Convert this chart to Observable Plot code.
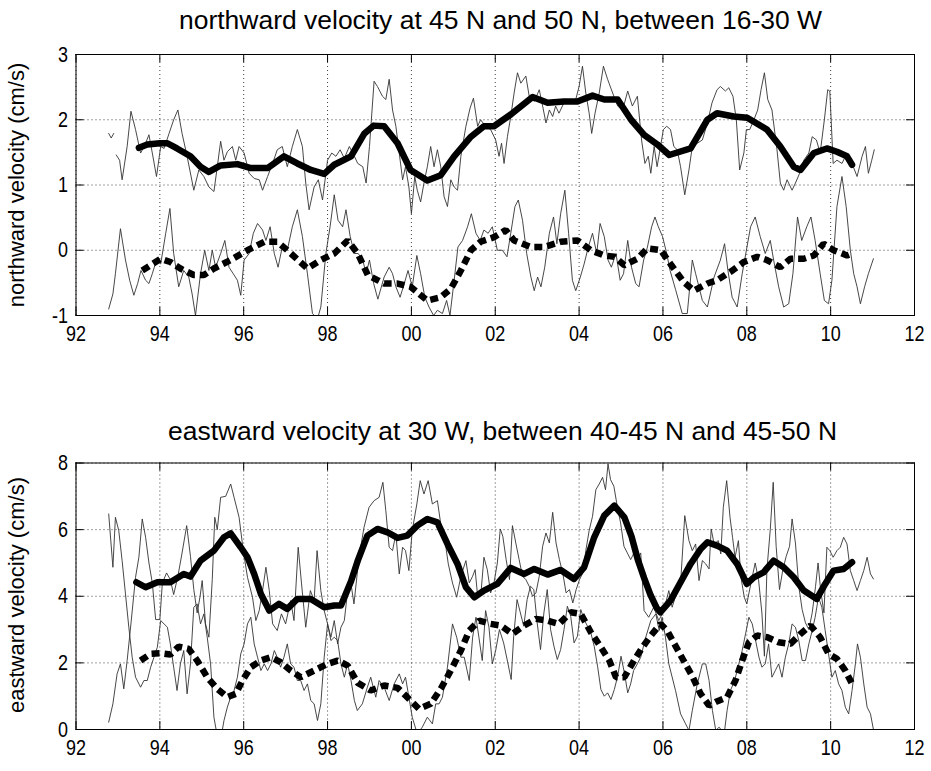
<!DOCTYPE html>
<html><head><meta charset="utf-8">
<script src="https://cdn.jsdelivr.net/npm/d3@7"></script>
<script src="https://cdn.jsdelivr.net/npm/@observablehq/plot@0.6"></script>
<style>
html,body{margin:0;padding:0;background:#fff;}
#root{position:relative;width:931px;height:771px;overflow:hidden;background:#fff;}
.panel{position:absolute;left:0;}
.title{position:absolute;white-space:nowrap;font-family:"Liberation Sans",Arial,sans-serif;font-size:25px;color:#000;line-height:1;transform-origin:0 50%;}
.ylab{position:absolute;white-space:nowrap;font-family:"Liberation Sans",Arial,sans-serif;font-size:22px;color:#000;line-height:1;}
</style></head><body>
<div id="root"></div>
<script>
// ---------- tick values ----------
const xTicks = [1992,1994,1996,1998,2000,2002,2004,2006,2008,2010,2012];
const topYTicks = [-1,0,1,2,3];
const botYTicks = [0,2,4,6,8];

// ---------- top panel: northward velocity ----------
const nSolidT = [1993.5,1993.7,1994.0,1994.18,1994.41,1994.73,1994.97,1995.17,1995.45,1995.85,1996.17,1996.57,1996.96,1997.28,1997.6,1997.92,1998.16,1998.56,1998.88,1999.1,1999.35,1999.67,1999.98,2000.38,2000.7,2001.02,2001.42,2001.73,2001.97,2002.37,2002.89,2003.25,2003.64,2003.96,2004.32,2004.6,2004.92,2005.24,2005.55,2005.87,2006.15,2006.66,2007.06,2007.29,2007.69,2008.01,2008.48,2008.8,2009.12,2009.28,2009.6,2009.91,2010.15,2010.39,2010.51];
const nSolidV = [1.57,1.62,1.64,1.64,1.56,1.44,1.28,1.2,1.3,1.32,1.26,1.26,1.44,1.33,1.23,1.17,1.31,1.44,1.79,1.91,1.9,1.64,1.23,1.07,1.15,1.44,1.74,1.9,1.9,2.08,2.35,2.26,2.28,2.28,2.37,2.31,2.31,2.0,1.77,1.62,1.46,1.56,2.0,2.1,2.05,2.03,1.85,1.59,1.28,1.23,1.49,1.56,1.51,1.44,1.31];

const nDashT = [1993.58,1994.02,1994.25,1994.49,1994.81,1995.05,1995.29,1995.69,1996.09,1996.49,1996.8,1997.04,1997.52,1997.84,1998.16,1998.48,1998.72,1998.96,1999.2,1999.35,1999.67,1999.98,2000.38,2000.7,2000.94,2001.18,2001.42,2001.65,2001.97,2002.25,2002.45,2002.85,2003.17,2003.56,2003.96,2004.28,2004.6,2004.84,2005.08,2005.39,2005.63,2005.95,2006.18,2006.5,2006.74,2007.06,2007.29,2007.61,2007.93,2008.25,2008.48,2008.8,2009.04,2009.36,2009.6,2009.83,2010.07,2010.39,2010.51];
const nDashV = [-0.31,-0.13,-0.18,-0.28,-0.38,-0.38,-0.28,-0.15,0.0,0.13,0.13,0.0,-0.28,-0.15,-0.05,0.15,-0.05,-0.38,-0.46,-0.51,-0.51,-0.56,-0.77,-0.72,-0.59,-0.31,0.0,0.13,0.2,0.31,0.15,0.05,0.05,0.13,0.15,0.0,-0.08,-0.1,-0.23,-0.13,0.03,0.0,-0.21,-0.49,-0.62,-0.51,-0.46,-0.33,-0.18,-0.1,-0.15,-0.26,-0.13,-0.13,-0.08,0.1,0.0,-0.08,-0.05];

const nThinAT = [1992.78,1992.84,1992.9,1992.93,1992.96,1993.04,1993.1,1993.22,1993.31,1993.42,1993.54,1993.63,1993.74,1993.82,1993.92,1994.02,1994.1,1994.22,1994.33,1994.43,1994.53,1994.65,1994.81,1994.93,1995.05,1995.17,1995.29,1995.37,1995.45,1995.53,1995.61,1995.73,1995.81,1995.89,1996.01,1996.13,1996.25,1996.37,1996.45,1996.57,1996.69,1996.8,1996.92,1997.04,1997.16,1997.28,1997.4,1997.48,1997.56,1997.68,1997.78,1997.88,1998.0,1998.1,1998.2,1998.3,1998.4,1998.52,1998.64,1998.72,1998.84,1998.92,1999.0,1999.11,1999.19,1999.31,1999.39,1999.47,1999.55,1999.63,1999.71,1999.79,1999.86,1999.94,2000.0,2000.08,2000.14,2000.22,2000.3,2000.38,2000.46,2000.54,2000.62,2000.7,2000.78,2000.86,2000.94,2001.02,2001.1,2001.18,2001.3,2001.4,2001.48,2001.58,2001.65,2001.77,2001.89,2002.01,2002.09,2002.15,2002.21,2002.29,2002.37,2002.45,2002.53,2002.61,2002.73,2002.81,2002.93,2003.05,2003.13,2003.21,2003.29,2003.37,2003.44,2003.52,2003.64,2003.8,2003.92,2004.0,2004.08,2004.16,2004.24,2004.3,2004.38,2004.48,2004.58,2004.68,2004.8,2004.92,2005.04,2005.16,2005.27,2005.39,2005.49,2005.57,2005.65,2005.71,2005.79,2005.86,2005.93,2006.01,2006.09,2006.18,2006.26,2006.34,2006.42,2006.52,2006.62,2006.7,2006.82,2006.94,2007.06,2007.17,2007.29,2007.37,2007.49,2007.57,2007.67,2007.75,2007.83,2007.93,2007.99,2008.07,2008.17,2008.26,2008.34,2008.42,2008.5,2008.6,2008.72,2008.8,2008.88,2008.96,2009.08,2009.16,2009.26,2009.36,2009.48,2009.56,2009.66,2009.75,2009.85,2009.93,2009.98,2010.06,2010.15,2010.27,2010.39,2010.51,2010.63,2010.75,2010.83,2010.9,2010.98,2011.04];
const nThinAV = [1.79,1.72,1.79,null,1.46,1.38,1.08,1.59,2.13,1.85,1.49,1.59,1.77,1.49,1.13,1.59,1.56,1.79,2.0,2.15,1.79,1.44,0.92,1.23,1.13,0.97,0.9,1.28,1.67,1.38,1.51,1.59,1.38,1.59,1.49,1.18,1.1,1.08,0.92,1.13,1.33,1.54,1.59,1.28,1.59,1.85,1.59,1.03,0.62,0.97,1.08,0.77,1.38,1.49,1.44,1.54,1.41,1.59,1.44,1.33,1.28,1.03,1.59,2.59,2.51,2.36,2.31,2.62,2.15,1.9,1.49,1.08,1.28,0.97,0.56,1.13,0.92,0.74,1.03,1.28,1.59,1.28,1.54,1.28,0.82,0.67,1.08,0.97,0.92,1.44,1.9,2.18,2.33,1.9,2.0,1.9,1.85,1.69,1.44,1.64,1.33,1.74,2.05,2.41,2.72,2.56,2.67,2.36,2.28,2.46,2.21,1.95,2.15,2.05,2.21,2.1,2.26,2.26,2.31,2.51,2.82,2.41,2.1,1.79,2.1,2.41,2.82,2.62,2.41,2.21,2.15,2.44,2.21,2.36,1.69,1.33,1.44,1.18,1.59,1.28,1.54,1.85,1.9,1.85,1.59,1.54,1.28,0.85,1.23,1.59,1.64,1.69,1.95,2.26,2.46,2.51,2.44,2.49,2.36,2.0,1.23,1.49,1.85,1.85,2.0,2.15,2.46,2.72,2.31,2.15,1.54,1.03,0.92,1.08,0.92,1.03,1.18,1.38,1.49,1.74,1.69,1.49,2.0,2.46,2.44,1.33,1.38,1.33,1.49,1.33,1.13,1.44,1.59,1.18,1.38,1.54];

const nThinBT = [1992.78,1992.88,1992.94,1993.06,1993.18,1993.28,1993.38,1993.47,1993.55,1993.66,1993.74,1993.82,1993.92,1994.02,1994.14,1994.24,1994.33,1994.45,1994.57,1994.69,1994.77,1994.85,1994.97,1995.07,1995.17,1995.25,1995.33,1995.45,1995.55,1995.65,1995.75,1995.85,1995.93,1996.01,1996.13,1996.23,1996.33,1996.45,1996.53,1996.63,1996.73,1996.82,1996.92,1997.04,1997.16,1997.28,1997.4,1997.52,1997.64,1997.76,1997.84,1997.96,1998.06,1998.16,1998.25,1998.36,1998.44,1998.54,1998.64,1998.73,1998.84,1998.92,1999.0,1999.1,1999.2,1999.35,1999.47,1999.55,1999.63,1999.73,1999.83,1999.92,2000.02,2000.13,2000.22,2000.32,2000.42,2000.53,2000.62,2000.74,2000.84,2000.92,2001.02,2001.11,2001.22,2001.34,2001.43,2001.54,2001.64,2001.73,2001.83,2001.93,2002.05,2002.17,2002.28,2002.37,2002.47,2002.55,2002.65,2002.75,2002.85,2002.93,2003.01,2003.09,2003.18,2003.29,2003.39,2003.47,2003.56,2003.66,2003.75,2003.84,2003.92,2004.03,2004.12,2004.22,2004.32,2004.42,2004.5,2004.6,2004.69,2004.77,2004.88,2004.98,2005.06,2005.16,2005.25,2005.35,2005.43,2005.54,2005.63,2005.73,2005.81,2005.89,2005.99,2006.09,2006.17,2006.3,2006.46,2006.58,2006.7,2006.78,2006.94,2007.06,2007.22,2007.37,2007.47,2007.55,2007.65,2007.77,2007.89,2007.99,2008.09,2008.2,2008.32,2008.44,2008.56,2008.64,2008.76,2008.88,2009.0,2009.1,2009.21,2009.31,2009.43,2009.53,2009.63,2009.75,2009.85,2009.95,2010.03,2010.15,2010.27,2010.37,2010.47,2010.55,2010.63,2010.71,2010.81,2010.9,2011.02];
const nThinBV = [-0.9,-0.67,-0.36,0.33,-0.15,-0.46,-0.69,-0.51,-0.31,-0.46,-0.51,-0.36,-0.15,-0.21,0.26,0.64,-0.05,-0.56,-0.31,-0.41,-0.67,-1.0,-0.36,0.0,-0.31,0.0,-0.26,-0.05,0.15,-0.26,-0.36,-0.46,-0.69,-0.15,-0.05,0.26,0.41,0.31,0.15,0.36,-0.05,-0.26,0.05,0.0,0.36,0.62,0.21,-0.36,-0.97,-1.05,-0.87,-0.05,0.36,0.85,0.46,0.36,0.62,0.21,-0.05,-0.05,-0.15,-0.36,-0.15,-0.51,-0.75,-0.41,-0.26,-0.36,-0.56,-0.72,-0.51,-0.31,-0.56,-0.08,-0.36,-0.72,-0.87,-1.0,-0.92,-0.97,-0.77,-1.0,-0.46,0.05,0.15,0.36,0.56,0.26,0.15,0.31,0.26,0.36,0.0,0.0,-0.1,0.26,0.67,0.77,0.46,-0.05,-0.41,-0.62,-0.41,-0.56,-0.26,0.26,0.51,0.1,0.56,0.92,0.26,-0.46,-0.62,-0.41,-0.21,0.05,0.26,-0.05,0.41,0.21,-0.15,-0.26,-0.05,-0.46,-0.36,0.15,-0.26,-0.51,-0.56,-0.15,0.05,0.36,0.51,0.36,0.21,-0.05,-0.31,-0.6,-0.97,-0.97,-0.15,-0.36,-0.77,-0.87,-0.41,-0.15,0.1,-0.31,-0.72,-0.87,-0.36,0.0,0.36,0.51,0.21,-0.05,0.15,-0.15,-0.56,-0.87,-0.82,-0.36,0.51,0.15,0.36,0.51,0.15,-0.36,-0.77,-0.82,-0.46,0.67,1.13,0.67,0.0,-0.36,-0.56,-0.82,-0.56,-0.36,-0.13];

// ---------- bottom panel: eastward velocity ----------
const eSolidT = [1993.44,1993.66,1993.94,1994.25,1994.57,1994.73,1994.97,1995.29,1995.53,1995.69,1995.93,1996.09,1996.25,1996.41,1996.61,1996.84,1997.04,1997.28,1997.6,1997.92,1998.16,1998.32,1998.56,1998.73,1998.95,1999.19,1999.43,1999.67,1999.9,2000.14,2000.38,2000.62,2000.86,2001.1,2001.3,2001.5,2001.73,2002.05,2002.37,2002.69,2002.93,2003.25,2003.56,2003.88,2004.12,2004.36,2004.6,2004.84,2005.08,2005.25,2005.4,2005.55,2005.7,2005.85,2005.94,2006.18,2006.42,2006.66,2006.9,2007.06,2007.29,2007.53,2007.77,2008.0,2008.17,2008.4,2008.64,2008.88,2009.12,2009.36,2009.67,2009.87,2010.07,2010.31,2010.51];
const eSolidV = [4.42,4.27,4.42,4.42,4.67,4.59,5.07,5.37,5.77,5.89,5.47,5.17,4.67,4.07,3.57,3.77,3.62,3.92,3.92,3.67,3.72,3.72,4.45,5.1,5.82,6.02,5.92,5.75,5.82,6.12,6.32,6.22,5.57,4.97,4.27,3.97,4.17,4.37,4.85,4.67,4.82,4.65,4.79,4.52,4.87,5.77,6.42,6.72,6.37,5.8,5.1,4.55,4.05,3.65,3.52,3.87,4.42,4.97,5.42,5.62,5.52,5.37,4.97,4.37,4.57,4.72,5.07,4.87,4.57,4.17,3.92,4.37,4.77,4.82,5.02];

const eDashT = [1993.54,1993.78,1994.02,1994.25,1994.45,1994.69,1994.89,1995.13,1995.37,1995.61,1995.81,1995.97,1996.17,1996.41,1996.65,1996.88,1997.12,1997.36,1997.68,1998.0,1998.24,1998.48,1998.72,1999.03,1999.35,1999.67,1999.9,2000.18,2000.46,2000.7,2000.94,2001.18,2001.38,2001.62,2001.89,2002.13,2002.41,2002.69,2002.97,2003.25,2003.52,2003.8,2004.04,2004.28,2004.52,2004.72,2004.88,2005.08,2005.31,2005.5,2005.7,2005.94,2006.1,2006.26,2006.5,2006.7,2006.9,2007.1,2007.3,2007.53,2007.73,2007.89,2008.05,2008.25,2008.49,2008.76,2009.04,2009.28,2009.52,2009.75,2009.95,2010.15,2010.35,2010.51];
const eDashV = [2.07,2.27,2.29,2.25,2.49,2.42,2.07,1.57,1.22,0.97,1.07,1.47,1.87,2.07,2.17,2.02,1.77,1.57,1.77,1.97,2.07,1.92,1.4,1.17,1.32,1.25,0.97,0.62,0.77,1.22,1.77,2.37,2.97,3.27,3.17,3.12,2.87,3.12,3.32,3.27,3.17,3.52,3.47,2.92,2.47,2.07,1.57,1.57,2.07,2.45,2.8,3.17,2.97,2.6,2.05,1.6,1.07,0.72,0.85,0.97,1.47,2.07,2.62,2.82,2.77,2.62,2.57,2.87,3.12,2.77,2.27,2.12,1.77,1.37];

const eThinUT = [1992.78,1992.88,1992.98,1993.06,1993.14,1993.22,1993.31,1993.42,1993.5,1993.58,1993.66,1993.74,1993.82,1993.9,1994.0,1994.06,1994.16,1994.25,1994.33,1994.43,1994.53,1994.64,1994.73,1994.81,1994.89,1994.96,1995.01,1995.09,1995.17,1995.25,1995.31,1995.37,1995.45,1995.57,1995.69,1995.77,1995.89,1995.99,1996.09,1996.21,1996.29,1996.37,1996.45,1996.53,1996.61,1996.69,1996.8,1996.9,1997.0,1997.12,1997.2,1997.3,1997.38,1997.48,1997.59,1997.68,1997.75,1997.84,1997.92,1998.0,1998.08,1998.16,1998.24,1998.32,1998.4,1998.48,1998.56,1998.63,1998.75,1998.87,1998.99,1999.11,1999.23,1999.32,1999.39,1999.47,1999.55,1999.63,1999.71,1999.79,1999.86,1999.94,2000.02,2000.13,2000.21,2000.3,2000.4,2000.5,2000.62,2000.7,2000.8,2000.88,2000.98,2001.08,2001.18,2001.3,2001.38,2001.46,2001.52,2001.58,2001.66,2001.73,2001.81,2001.89,2001.97,2002.05,2002.12,2002.18,2002.26,2002.34,2002.41,2002.49,2002.57,2002.65,2002.73,2002.81,2002.89,2002.97,2003.05,2003.13,2003.21,2003.29,2003.37,2003.45,2003.53,2003.61,2003.69,2003.77,2003.85,2003.93,2004.01,2004.09,2004.16,2004.24,2004.32,2004.4,2004.48,2004.56,2004.63,2004.69,2004.75,2004.83,2004.91,2004.99,2005.07,2005.15,2005.23,2005.31,2005.39,2005.47,2005.55,2005.66,2005.78,2005.9,2006.02,2006.14,2006.22,2006.34,2006.42,2006.52,2006.62,2006.7,2006.78,2006.86,2006.94,2007.02,2007.1,2007.15,2007.22,2007.32,2007.38,2007.44,2007.52,2007.6,2007.66,2007.72,2007.8,2007.86,2007.94,2008.0,2008.1,2008.2,2008.28,2008.36,2008.42,2008.48,2008.56,2008.63,2008.7,2008.78,2008.86,2008.94,2009.02,2009.08,2009.16,2009.24,2009.32,2009.4,2009.48,2009.56,2009.64,2009.7,2009.76,2009.84,2009.91,2009.98,2010.06,2010.15,2010.23,2010.31,2010.39,2010.47,2010.55,2010.63,2010.71,2010.79,2010.87,2010.95,2011.02];
const eThinUV = [0.22,0.77,1.67,1.97,1.22,2.07,3.17,4.57,5.17,6.32,5.77,5.0,4.4,3.3,3.3,4.4,4.7,4.5,4.05,4.6,5.3,6.12,5.2,4.2,3.5,4.0,4.47,3.17,2.77,4.5,6.37,6.0,6.97,7.0,7.37,6.97,6.37,5.37,4.57,3.97,3.27,3.57,4.17,4.87,4.17,3.17,2.97,3.47,3.17,3.87,3.27,5.47,4.37,3.07,4.17,3.87,5.37,4.17,3.57,3.17,2.77,3.27,2.57,3.07,3.27,4.17,4.37,3.77,5.17,6.07,6.67,6.87,6.97,7.42,6.57,5.47,5.37,5.87,4.67,5.47,5.37,4.77,5.97,6.77,7.47,7.07,7.47,6.77,6.87,6.17,5.67,4.97,4.4,3.97,4.6,5.07,4.4,4.6,4.8,4.0,4.1,5.17,4.8,4.1,4.4,5.0,6.02,5.8,5.1,4.5,6.12,5.6,5.1,4.6,4.5,4.3,4.0,4.1,4.6,5.5,5.9,5.6,6.52,5.6,5.1,4.7,4.1,4.2,3.8,4.2,4.5,4.7,5.37,5.97,6.4,7.2,7.37,7.57,7.2,7.97,7.5,7.3,6.7,6.2,5.5,5.3,5.1,5.3,5.1,5.3,3.57,3.37,3.67,3.27,3.57,4.17,3.67,4.17,4.37,6.42,5.67,5.37,5.57,4.47,5.07,4.97,4.82,6.02,5.57,5.67,5.27,6.67,7.47,6.37,5.77,5.17,5.67,4.57,3.97,3.77,4.4,5.0,4.5,3.5,2.2,4.8,6.0,7.42,5.5,4.2,4.8,5.2,5.5,6.32,5.6,4.3,3.6,3.2,3.0,3.5,4.3,5.0,4.2,3.5,5.47,5.37,5.17,5.37,5.47,5.77,5.57,4.77,4.47,4.17,4.47,4.77,5.17,4.67,4.52];

const eThinLT = [1992.78,1992.88,1992.94,1993.02,1993.1,1993.18,1993.26,1993.34,1993.42,1993.54,1993.62,1993.7,1993.78,1993.86,1993.94,1994.02,1994.1,1994.18,1994.25,1994.33,1994.41,1994.49,1994.57,1994.65,1994.73,1994.81,1994.89,1994.97,1995.05,1995.13,1995.21,1995.29,1995.37,1995.45,1995.53,1995.61,1995.69,1995.77,1995.85,1995.93,1996.01,1996.09,1996.17,1996.25,1996.33,1996.41,1996.49,1996.57,1996.65,1996.73,1996.8,1996.88,1996.96,1997.04,1997.12,1997.2,1997.28,1997.36,1997.44,1997.52,1997.6,1997.68,1997.76,1997.84,1997.92,1998.0,1998.08,1998.16,1998.24,1998.32,1998.4,1998.48,1998.56,1998.64,1998.71,1998.83,1998.95,1999.03,1999.15,1999.23,1999.35,1999.47,1999.59,1999.71,1999.79,1999.86,1999.94,2000.02,2000.14,2000.26,2000.38,2000.5,2000.58,2000.66,2000.74,2000.86,2000.98,2001.08,2001.18,2001.26,2001.38,2001.46,2001.54,2001.61,2001.69,2001.77,2001.85,2001.93,2002.01,2002.1,2002.2,2002.3,2002.38,2002.44,2002.52,2002.6,2002.68,2002.76,2002.84,2002.92,2003.0,2003.08,2003.16,2003.24,2003.32,2003.4,2003.48,2003.56,2003.64,2003.72,2003.8,2003.88,2003.96,2004.04,2004.12,2004.2,2004.28,2004.36,2004.44,2004.52,2004.6,2004.68,2004.76,2004.84,2004.92,2005.0,2005.08,2005.16,2005.23,2005.3,2005.39,2005.47,2005.59,2005.71,2005.83,2005.91,2005.98,2006.06,2006.14,2006.3,2006.42,2006.54,2006.62,2006.7,2006.82,2006.94,2007.02,2007.1,2007.18,2007.26,2007.34,2007.46,2007.53,2007.61,2007.71,2007.79,2007.89,2007.97,2008.05,2008.13,2008.21,2008.29,2008.36,2008.44,2008.52,2008.6,2008.68,2008.76,2008.84,2008.92,2009.0,2009.08,2009.16,2009.24,2009.32,2009.4,2009.48,2009.56,2009.63,2009.71,2009.79,2009.87,2009.95,2010.03,2010.11,2010.19,2010.27,2010.35,2010.43,2010.51,2010.59,2010.64,2010.71,2010.79,2010.87,2010.95,2011.02];
const eThinLV = [6.47,4.87,6.37,5.97,5.07,4.07,3.07,2.17,1.57,1.27,1.47,1.47,1.87,2.17,2.47,3.27,3.17,3.07,2.57,1.87,1.17,1.97,2.37,1.07,1.97,3.67,3.77,3.17,3.47,2.77,1.97,0.37,-0.2,-0.3,0.27,0.67,0.97,1.17,1.57,2.27,2.57,3.17,3.37,2.57,2.17,1.77,1.97,1.77,1.97,2.37,2.17,1.87,2.17,2.57,1.97,1.87,1.47,1.47,1.17,1.37,0.87,0.77,0.27,0.77,2.17,3.17,2.67,2.77,2.67,1.97,1.57,1.97,1.47,0.87,0.57,0.77,1.27,1.57,0.97,1.47,1.27,0.87,1.37,1.67,1.37,1.57,0.97,0.37,-0.13,0.07,0.37,0.17,0.77,0.77,0.97,1.87,3.17,2.77,2.17,2.17,1.47,2.77,3.37,2.77,2.07,3.57,3.07,1.97,2.37,3.0,2.6,2.0,1.5,2.8,3.9,3.5,3.1,3.9,4.3,4.2,3.2,2.4,3.5,4.2,3.0,2.5,2.1,2.4,3.0,3.7,3.4,2.6,2.8,3.6,3.3,3.1,2.9,2.5,1.9,1.2,1.0,1.1,0.9,1.2,1.6,2.2,1.7,1.1,1.37,1.77,1.97,2.17,2.77,3.27,3.47,2.97,3.37,2.77,1.97,1.17,0.47,0.17,-0.03,0.57,1.37,1.97,1.97,1.47,0.57,-0.03,0.07,-0.13,0.57,1.17,1.47,1.87,2.37,2.87,3.37,3.17,2.67,2.17,1.87,1.97,2.57,1.57,1.77,1.97,1.57,2.17,2.57,3.17,3.07,2.67,2.07,2.07,2.57,2.97,3.37,3.97,3.67,2.97,2.27,1.57,1.77,1.37,1.17,0.67,0.47,1.17,1.97,2.57,2.17,1.37,0.67,0.47,0.0];

// ---------- drawing ----------
const rows = (T, V) => T.map((t, i) => ({t, v: V[i]}));
const tickFont = '"Liberation Sans",Arial,sans-serif';

function panel(cfg) {
  const W = 931, ml = 75.5, mr = 17;
  const plotH = cfg.height - cfg.mt - cfg.mb, plotW = W - ml - mr;
  const thin = {x: "t", y: "v", stroke: "#333", strokeWidth: 0.9, clip: true};
  const grid = {stroke: "#000", strokeOpacity: 0.75, strokeWidth: 1, strokeDasharray: "1,3"};
  const svg = Plot.plot({
    width: W, height: cfg.height,
    marginLeft: ml, marginRight: mr, marginTop: cfg.mt, marginBottom: cfg.mb,
    style: {fontFamily: tickFont, fontSize: "22px", color: "#000", background: "#fff"},
    x: {domain: [1992, 2012]},
    y: {domain: cfg.yDomain},
    marks: [
      Plot.gridX(xTicks, grid),
      Plot.gridY(cfg.yTicks, grid),
      Plot.tickX(xTicks, {x: d => d, insetTop: plotH - 8, stroke: "#000"}),
      Plot.tickX(xTicks, {x: d => d, insetBottom: plotH - 8, stroke: "#000"}),
      Plot.tickY(cfg.yTicks, {y: d => d, insetRight: plotW - 8, stroke: "#000"}),
      Plot.tickY(cfg.yTicks, {y: d => d, insetLeft: plotW - 8, stroke: "#000"}),
      Plot.line(rows(cfg.thinAT, cfg.thinAV), thin),
      Plot.line(rows(cfg.thinBT, cfg.thinBV), thin),
      Plot.line(rows(cfg.dashT, cfg.dashV), {x: "t", y: "v", stroke: "#000", strokeWidth: 6.5, strokeDasharray: "8,5", strokeLinecap: "butt", strokeLinejoin: "miter", clip: true}),
      Plot.line(rows(cfg.solidT, cfg.solidV), {x: "t", y: "v", stroke: "#000", strokeWidth: 6.5, strokeLinecap: "round", strokeLinejoin: "round", clip: true}),
      Plot.frame({stroke: "#000"}),
      Plot.axisX(xTicks, {tickSize: 0, tickPadding: 10, tickFormat: d => String(d % 100).padStart(2, "0"), label: null}),
      Plot.axisY(cfg.yTicks, {tickSize: 0, tickPadding: 8, tickFormat: d => String(d), label: null})
    ]
  });
  // narrow, tall tick digits like the reference
  d3.select(svg).selectAll("g[aria-label='x-axis tick label'] text, g[aria-label='y-axis tick label'] text")
    .each(function() {
      const t = this.textContent;
      const w = t.length === 2 ? (t[0] === "-" ? 16 : 20) : 10;
      d3.select(this).attr("textLength", w).attr("lengthAdjust", "spacingAndGlyphs");
    });
  return svg;
}

const root = document.getElementById("root");

const top1 = panel({height: 390, mt: 54, mb: 75, yDomain: [-1, 3], yTicks: topYTicks,
  solidT: nSolidT, solidV: nSolidV, dashT: nDashT, dashV: nDashV,
  thinAT: nThinAT, thinAV: nThinAV, thinBT: nThinBT, thinBV: nThinBV});
top1.classList.add("panel"); top1.style.top = "0px";
root.appendChild(top1);

const bot1 = panel({height: 381, mt: 72.5, mb: 42, yDomain: [0, 8], yTicks: botYTicks,
  solidT: eSolidT, solidV: eSolidV, dashT: eDashT, dashV: eDashV,
  thinAT: eThinUT, thinAV: eThinUV, thinBT: eThinLT, thinBV: eThinLV});
bot1.classList.add("panel"); bot1.style.top = "390px";
root.appendChild(bot1);

// titles and y labels
function addTitle(text, cx, cy, targetW) {
  const d = document.createElement("div");
  d.className = "title"; d.textContent = text;
  root.appendChild(d);
  const r = d.getBoundingClientRect();
  const s = targetW / r.width;
  d.style.left = (cx - targetW / 2) + "px";
  d.style.top = (cy - r.height / 2) + "px";
  d.style.transform = `scaleX(${s})`;
}
function addYLabel(text, cx, cy) {
  const d = document.createElement("div");
  d.className = "ylab"; d.textContent = text;
  root.appendChild(d);
  const r = d.getBoundingClientRect();
  d.style.left = (cx - r.width / 2) + "px";
  d.style.top = (cy - r.height / 2) + "px";
  d.style.transform = "rotate(-90deg)";
}
addTitle("northward velocity at 45 N and 50 N, between 16-30 W", 500, 20, 643);
addTitle("eastward velocity at 30 W, between 40-45 N and 45-50 N", 502, 431, 669);
addYLabel("northward velocity (cm/s)", 17, 185);
addYLabel("eastward velocity (cm/s)", 17, 595);
</script>
</body></html>
